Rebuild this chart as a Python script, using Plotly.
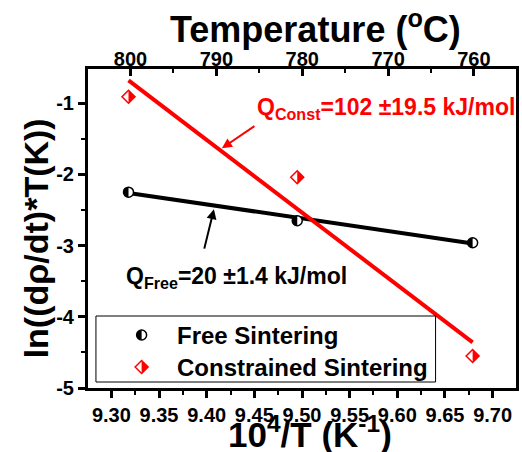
import plotly.graph_objects as go

# ---- data ----
inv_T = [9.318, 9.495, 9.679]            # 10^4/T (K^-1)
free_y = [-2.25, -2.65, -2.96]            # Free sintering
const_y = [-0.91, -2.04, -4.55]           # Constrained sintering
fit_x = [9.318, 9.679]
free_fit_y = [-2.26, -2.97]
const_fit_y = [-0.68, -4.36]
top_range_C = [804.95, 755.1]
bottom_ticks = [9.30, 9.35, 9.40, 9.45, 9.50, 9.55, 9.60, 9.65, 9.70]
bottom_minor = [9.325, 9.375, 9.425, 9.475, 9.525, 9.575, 9.625, 9.675]
y_ticks = [-5, -4, -3, -2, -1]
y_tick_text = ["-5", "-4", "-3", "-2", "-1"]
y_minor = [-4.5, -3.5, -2.5, -1.5]

FONT = "Liberation Sans, Arial, sans-serif"
RED = "#ff0000"

fig = go.Figure()

# fit lines
fig.add_trace(go.Scatter(x=fit_x, y=free_fit_y, mode="lines",
                         line=dict(color="black", width=4), showlegend=False))
fig.add_trace(go.Scatter(x=fit_x, y=const_fit_y, mode="lines",
                         line=dict(color=RED, width=4), showlegend=False))
# data markers (outline)
fig.add_trace(go.Scatter(x=inv_T, y=free_y, mode="markers", name="Free Sintering",
                         marker=dict(symbol="circle", size=10, color="white",
                                     line=dict(color="black", width=1.5)),
                         showlegend=False))
fig.add_trace(go.Scatter(x=inv_T, y=const_y, mode="markers", name="Constrained Sintering",
                         marker=dict(symbol="diamond", size=10, color="white",
                                     line=dict(color=RED, width=1.5)),
                         showlegend=False))
# invisible trace to activate the top (temperature) axis
fig.add_trace(go.Scatter(x=top_range_C, y=[-3, -3], xaxis="x2", mode="markers",
                         marker=dict(opacity=0), showlegend=False, hoverinfo="skip"))

r = 5.0
k = 0.5523 * r
half_circle = (f"M 0,{-r} C {-k},{-r} {-r},{-k} {-r},0 C {-r},{k} {-k},{r} 0,{r} Z")
h = 6.5
half_diamond = f"M 0,{-h} L {h},0 L 0,{h} Z"
full_diamond = f"M 0,{-h} L {h},0 L 0,{h} L {-h},0 Z"

shapes = []
for xv, yv in zip(inv_T, free_y):
    shapes.append(dict(type="path", xref="x", yref="y", xsizemode="pixel", ysizemode="pixel",
                       xanchor=xv, yanchor=yv, path=half_circle,
                       fillcolor="black", line=dict(width=0)))
for xv, yv in zip(inv_T, const_y):
    shapes.append(dict(type="path", xref="x", yref="y", xsizemode="pixel", ysizemode="pixel",
                       xanchor=xv, yanchor=yv, path=half_diamond,
                       fillcolor=RED, line=dict(width=0)))

# custom legend (paper coords)
def px2paper_x(px):
    return (px - 88.0) / 431.0

def px2paper_y(py):
    return (388.0 - py) / 319.0

shapes.append(dict(type="rect", xref="paper", yref="paper",
                   x0=px2paper_x(96), x1=px2paper_x(438),
                   y0=px2paper_y(382), y1=px2paper_y(316),
                   line=dict(color="black", width=1), fillcolor="white", layer="above"))
lx = px2paper_x(142)
ly1 = px2paper_y(335)
ly2 = px2paper_y(367)
shapes.append(dict(type="circle", xref="paper", yref="paper", xsizemode="pixel", ysizemode="pixel",
                   xanchor=lx, yanchor=ly1, x0=-r, x1=r, y0=-r, y1=r,
                   line=dict(color="black", width=1.5), fillcolor="white"))
shapes.append(dict(type="path", xref="paper", yref="paper", xsizemode="pixel", ysizemode="pixel",
                   xanchor=lx, yanchor=ly1, path=half_circle, fillcolor="black", line=dict(width=0)))
shapes.append(dict(type="path", xref="paper", yref="paper", xsizemode="pixel", ysizemode="pixel",
                   xanchor=lx, yanchor=ly2, path=full_diamond, fillcolor="white",
                   line=dict(color=RED, width=1.5)))
shapes.append(dict(type="path", xref="paper", yref="paper", xsizemode="pixel", ysizemode="pixel",
                   xanchor=lx, yanchor=ly2, path=half_diamond, fillcolor=RED, line=dict(width=0)))

annotations = [
    dict(text="Free Sintering", xref="paper", yref="paper", x=px2paper_x(176), y=ly1,
         xanchor="left", yanchor="middle", showarrow=False,
         font=dict(family=FONT, size=24, color="black", weight="bold")),
    dict(text="Constrained Sintering", xref="paper", yref="paper", x=px2paper_x(176), y=ly2,
         xanchor="left", yanchor="middle", showarrow=False,
         font=dict(family=FONT, size=24, color="black", weight="bold")),
    # Q labels
    dict(text="Q<sub>Const</sub>=102 ±19.5 kJ/mol", xref="paper", yref="paper",
         x=px2paper_x(256), y=px2paper_y(108), xanchor="left", yanchor="middle",
         showarrow=False, font=dict(family=FONT, size=23, color=RED, weight="bold")),
    dict(text="Q<sub>Free</sub>=20 ±1.4 kJ/mol", xref="paper", yref="paper",
         x=px2paper_x(124), y=px2paper_y(277), xanchor="left", yanchor="middle",
         showarrow=False, font=dict(family=FONT, size=23, color="black", weight="bold")),
    # arrows
    dict(text="", x=9.4076, y=-2.488, xref="x", yref="y", ax=-10, ay=41,
         showarrow=True, arrowhead=2, arrowsize=1, arrowwidth=2, arrowcolor="black"),
    dict(text="", x=9.416, y=-1.632, xref="x", yref="y", ax=34, ay=-23,
         showarrow=True, arrowhead=2, arrowsize=1, arrowwidth=2, arrowcolor=RED),
    # axis titles
    dict(text="Temperature (<sup>o</sup>C)", xref="paper", yref="paper",
         x=px2paper_x(317), y=px2paper_y(27), xanchor="center", yanchor="middle",
         showarrow=False, font=dict(family=FONT, size=36, color="black", weight="bold")),
    dict(text="10<sup>4</sup>/T (K<sup>-1</sup>)", xref="paper", yref="paper",
         x=px2paper_x(312), y=px2paper_y(432), xanchor="center", yanchor="middle",
         showarrow=False, font=dict(family=FONT, size=35, color="black", weight="bold")),
    dict(text="ln((dρ/dt)*T(K))", xref="paper", yref="paper", textangle=-90,
         x=px2paper_x(36), y=px2paper_y(238), xanchor="center", yanchor="middle",
         showarrow=False, font=dict(family=FONT, size=34, color="black", weight="bold")),
]

xr = [9.2755, 9.7245]
tick_font = dict(family=FONT, size=20, color="black", weight="bold")

fig.update_layout(
    width=522, height=452,
    margin=dict(l=88, r=3, t=69, b=64),
    paper_bgcolor="white", plot_bgcolor="white",
    font=dict(family=FONT, weight="bold", color="black"),
    showlegend=False,
    shapes=shapes,
    annotations=annotations,
    xaxis=dict(range=xr, tickmode="array", tickvals=bottom_ticks,
               ticktext=[f"{v:.2f}" for v in bottom_ticks],
               showline=True, linecolor="black", linewidth=3,
               ticks="outside", ticklen=7, tickwidth=3, tickcolor="black",
               tickfont=tick_font, showgrid=False, zeroline=False,
               minor=dict(ticks="outside", ticklen=4, tickwidth=2, tickcolor="black",
                          tickmode="array", tickvals=bottom_minor)),
    xaxis2=dict(range=top_range_C, overlaying="x", side="top", anchor="y",
                tick0=800, dtick=10, ticklabelstandoff=-8,
                showline=True, linecolor="black", linewidth=3,
                ticks="inside", ticklen=7, tickwidth=3, tickcolor="black",
                tickfont=tick_font, showgrid=False, zeroline=False,
                minor=dict(ticks="inside", ticklen=4, tickwidth=2, tickcolor="black",
                           tick0=795, dtick=10)),
    yaxis=dict(range=[-5, -0.52], tickmode="array", tickvals=y_ticks, ticktext=y_tick_text,
               showline=True, linecolor="black", linewidth=3, mirror=True,
               ticks="outside", ticklen=7, tickwidth=3, tickcolor="black",
               tickfont=tick_font, showgrid=False, zeroline=False,
               minor=dict(ticks="outside", ticklen=4, tickwidth=2, tickcolor="black",
                          tickmode="array", tickvals=y_minor)),
)

fig.write_html("out.html")
